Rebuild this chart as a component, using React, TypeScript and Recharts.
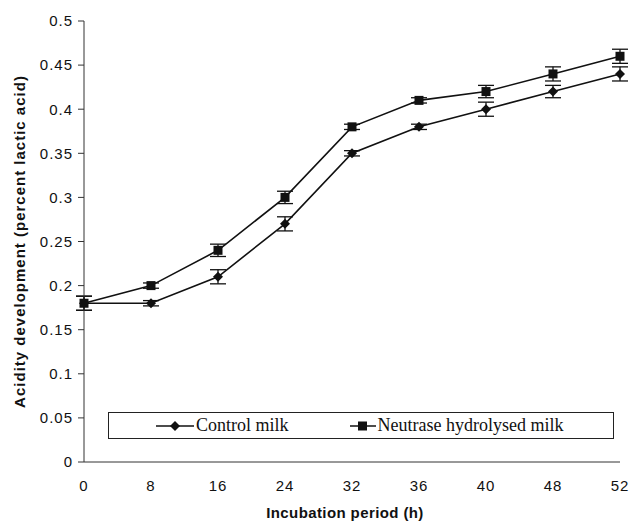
import React from 'react';
import { LineChart, Line, XAxis, YAxis, ErrorBar } from 'recharts';

document.body.style.margin = '0';

const hours = ['0', '8', '16', '24', '32', '36', '40', '48', '52'];
const controlMilk = [0.18, 0.18, 0.21, 0.27, 0.35, 0.38, 0.4, 0.42, 0.44];
const controlErr = [0.008, 0.003, 0.008, 0.008, 0.003, 0.003, 0.008, 0.007, 0.008];
const neutraseMilk = [0.18, 0.2, 0.24, 0.3, 0.38, 0.41, 0.42, 0.44, 0.46];
const neutraseErr = [0.008, 0.003, 0.007, 0.007, 0.003, 0.003, 0.007, 0.008, 0.008];
const yTicks = [0, 0.05, 0.1, 0.15, 0.2, 0.25, 0.3, 0.35, 0.4, 0.45, 0.5];

const data = hours.map((h, i) => ({
  hour: h,
  control: controlMilk[i],
  controlErr: controlErr[i],
  neutrase: neutraseMilk[i],
  neutraseErr: neutraseErr[i],
}));

const DiamondDot = (props: any) => {
  const { cx, cy } = props;
  if (cx == null || cy == null) return null;
  const r = 5;
  return <path d={`M${cx},${cy - r}L${cx + r},${cy}L${cx},${cy + r}L${cx - r},${cy}Z`} fill="#111" />;
};

const SquareDot = (props: any) => {
  const { cx, cy } = props;
  if (cx == null || cy == null) return null;
  const s = 4.5;
  return <rect x={cx - s} y={cy - s} width={s * 2} height={s * 2} fill="#111" />;
};

// legend sits inside the plot, drawn over the chart
const LegendBox = () => (
  <div
    style={{
      position: 'absolute',
      left: 108,
      top: 412,
      width: 506,
      height: 27,
      border: '1px solid #222',
      boxSizing: 'border-box',
      background: '#fff',
      display: 'flex',
      alignItems: 'center',
      fontFamily: '"Liberation Serif", "Times New Roman", serif',
      fontSize: 18,
      color: '#111',
    }}
  >
    <div style={{ display: 'flex', alignItems: 'center', marginLeft: 47 }}>
      <svg width={38} height={12}>
        <line x1={0} y1={6} x2={38} y2={6} stroke="#111" strokeWidth={1.5} />
        <path d="M19,1L24,6L19,11L14,6Z" fill="#111" />
      </svg>
      <span style={{ marginLeft: 2 }}>Control milk</span>
    </div>
    <div style={{ display: 'flex', alignItems: 'center', marginLeft: 61 }}>
      <svg width={26} height={12}>
        <line x1={0} y1={6} x2={26} y2={6} stroke="#111" strokeWidth={1.5} />
        <rect x={8} y={1.5} width={9} height={9} fill="#111" />
      </svg>
      <span style={{ marginLeft: 2 }}>Neutrase hydrolysed milk</span>
    </div>
  </div>
);

const tickStyle = { fill: '#111', fontSize: 15, fontFamily: 'Arial, "Liberation Sans", sans-serif', letterSpacing: 1 };
const titleStyle = { fontWeight: 'bold', fontSize: 15, fill: '#111', fontFamily: 'Arial, "Liberation Sans", sans-serif', letterSpacing: 0.4 };

export default function App() {
  return (
    <div style={{ position: 'relative', width: 631, height: 522, background: '#fff' }}>
      <LineChart
        width={631}
        height={522}
        data={data}
        margin={{ top: 21, right: 11, bottom: 0, left: 0 }}
      >
        <XAxis
          dataKey="hour"
          height={60}
          stroke="#333"
          tickLine={false}
          tick={tickStyle}
          tickMargin={12}
          label={{
            value: 'Incubation period (h)',
            position: 'insideBottom',
            offset: 4,
            dx: -7,
            style: titleStyle,
          }}
        />
        <YAxis
          width={84}
          domain={[0, 0.5]}
          ticks={yTicks}
          stroke="#333"
          tickSize={6}
          tickMargin={5}
          tick={tickStyle}
          label={{
            value: 'Acidity development (percent lactic acid)',
            angle: -90,
            position: 'center',
            dx: -22,
            style: { ...titleStyle, letterSpacing: 1, textAnchor: 'middle' },
          }}
        />
        <Line
          dataKey="control"
          name="Control milk"
          stroke="#111"
          strokeWidth={1.6}
          dot={<DiamondDot />}
          activeDot={false}
          isAnimationActive={false}
        >
          <ErrorBar dataKey="controlErr" width={8} stroke="#111" strokeWidth={1.3} isAnimationActive={false} />
        </Line>
        <Line
          dataKey="neutrase"
          name="Neutrase hydrolysed milk"
          stroke="#111"
          strokeWidth={1.6}
          dot={<SquareDot />}
          activeDot={false}
          isAnimationActive={false}
        >
          <ErrorBar dataKey="neutraseErr" width={8} stroke="#111" strokeWidth={1.3} isAnimationActive={false} />
        </Line>
      </LineChart>
      <LegendBox />
    </div>
  );
}
